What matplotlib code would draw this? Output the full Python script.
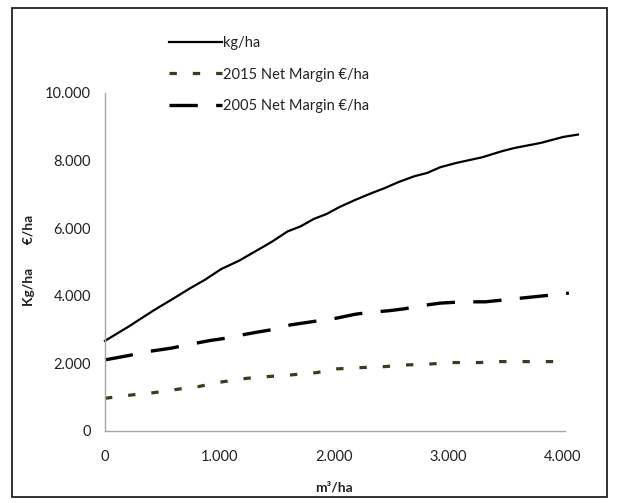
import matplotlib
matplotlib.use("Agg")
import matplotlib.pyplot as plt
from matplotlib.patches import Rectangle

plt.rcParams['font.family'] = ['Lato', 'DejaVu Sans']

# Data
kg_x = [0, 207, 419, 603, 745, 873, 1014, 1170, 1312, 1453, 1595, 1708, 1822, 1935,
        2048, 2190, 2331, 2445, 2558, 2700, 2813, 2926, 3068, 3295, 3465, 3578, 3805,
        4003, 4130]
kg_y = [2667, 3091, 3556, 3931, 4227, 4474, 4790, 5037, 5314, 5590, 5906, 6054, 6272,
        6420, 6627, 6844, 7042, 7190, 7358, 7536, 7634, 7802, 7931, 8099, 8277, 8375,
        8523, 8701, 8770]

nm2015_x = [0, 235, 433, 632, 816, 1000, 1241, 1425, 1623, 1850, 2020, 2246, 2445, 2643,
            2813, 3011, 3266, 3450, 3649, 3847, 4017]
nm2015_y = [968, 1067, 1136, 1235, 1314, 1442, 1560, 1610, 1659, 1728, 1837, 1877, 1906,
            1956, 1975, 2025, 2025, 2054, 2054, 2054, 2054]

nm2005_x = [0, 221, 377, 575, 717, 915, 1057, 1198, 1326, 1482, 1623, 1822, 2020, 2190,
            2331, 2473, 2615, 2756, 2926, 3125, 3323, 3493, 3691, 3861, 4051]
nm2005_y = [2104, 2242, 2351, 2449, 2548, 2676, 2746, 2844, 2923, 3012, 3141, 3240, 3338,
            3457, 3516, 3556, 3615, 3704, 3783, 3822, 3822, 3881, 3951, 4010, 4079]

x_ticks = [0, 1000, 2000, 3000, 4000]
x_tick_labels = ['0', '1.000', '2.000', '3.000', '4.000']
y_ticks = [0, 2000, 4000, 6000, 8000, 10000]
y_tick_labels = ['0', '2.000', '4.000', '6.000', '8.000', '10.000']

labels = ['kg/ha', '2015 Net Margin €/ha', '2005 Net Margin €/ha']

W, H = 618, 503
fig = plt.figure(figsize=(W / 100, H / 100), dpi=100)

# outer chart border
fig.patches.append(Rectangle((12 / W, 1 - 497 / H), (607 - 12) / W, (497 - 8) / H,
                             transform=fig.transFigure, fill=False,
                             edgecolor='#222222', linewidth=1.3))

ax = fig.add_axes([105 / W, 1 - 431 / H, (565 - 105) / W, (431 - 93) / H])
ax.set_xlim(0, 4017)
ax.set_ylim(0, 10000)

l1, = ax.plot(kg_x, kg_y, color='black', lw=1.6, clip_on=False, label=labels[0])
l2, = ax.plot(nm2015_x, nm2015_y, color='#3b3b1f', lw=2.3, clip_on=False,
              dashes=(2.3, 5.0), label=labels[1])
l3, = ax.plot(nm2005_x, nm2005_y, color='black', lw=2.4, clip_on=False,
              dashes=(8.5, 5.5), label=labels[2])

for s in ['top', 'right']:
    ax.spines[s].set_visible(False)
for s in ['left', 'bottom']:
    ax.spines[s].set_color('#a6a6a6')
    ax.spines[s].set_linewidth(1.0)

ax.set_xticks(x_ticks)
ax.set_xticklabels(x_tick_labels)
ax.set_yticks(y_ticks)
ax.set_yticklabels(y_tick_labels)
ax.tick_params(length=0, labelsize=10.5, colors='#222222')
ax.tick_params(axis='x', pad=14)
ax.tick_params(axis='y', pad=10)

fig.text(29 / W, 1 - 260 / H, 'Kg/ha       €/ha', rotation=90, ha='center', va='center',
         fontsize=10, fontweight='bold', color='#222222')
fig.text(334 / W, 1 - 487 / H, 'm³/ha', ha='center', va='center',
         fontsize=10, fontweight='bold', color='#222222')

leg = ax.legend(handles=[l1, l2, l3], loc='upper left',
                bbox_to_anchor=(169 / W, 1 - 36 / H), bbox_transform=fig.transFigure,
                frameon=False, fontsize=10.5, handlelength=3.6, handletextpad=0.12,
                labelspacing=1.2, borderaxespad=0, borderpad=0)
for t in leg.get_texts():
    t.set_color('#222222')

fig.savefig('out.png', dpi=100)
